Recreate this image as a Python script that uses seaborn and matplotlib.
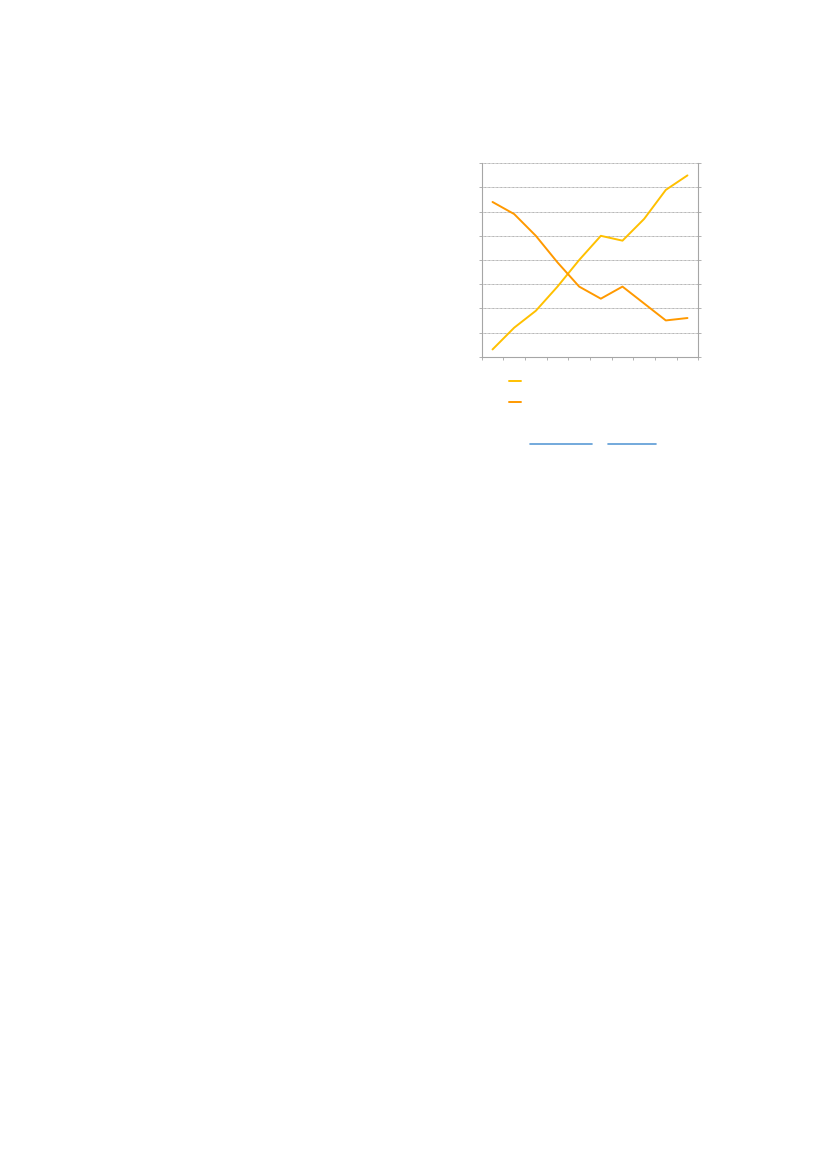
import numpy as np
import pandas as pd
import seaborn as sns
import matplotlib.pyplot as plt
from matplotlib.lines import Line2D

# values (no axis labels are visible, units are gridline steps)
categories = list(range(1, 11))
series_rising = [0.3, 1.2, 1.9, 2.9, 4.0, 5.0, 4.8, 5.7, 6.9, 7.5]
series_falling = [6.4, 5.9, 5.0, 3.9, 2.9, 2.4, 2.9, 2.2, 1.5, 1.6]
series_names = ['Série 1', 'Série 2']
colors = ['#FFC000', '#FF9900']

df = pd.DataFrame({
    'x': [c - 0.5 for c in categories] * 2,
    'y': series_rising + series_falling,
    'serie': [series_names[0]] * 10 + [series_names[1]] * 10,
})

sns.set_style('white')
fig = plt.figure(figsize=(8.27, 11.69), dpi=100)
ax = fig.add_axes([481.7 / 827, 1 - 356.7 / 1169, 216.6 / 827, 193.4 / 1169])

sns.lineplot(data=df, x='x', y='y', hue='serie', palette=colors,
             linewidth=1.4, legend=False, ax=ax)

ax.set_xlim(0, 10)
ax.set_ylim(0, 8)
ax.set_xticks(np.arange(0, 11))
ax.set_yticks(np.arange(0, 9))
ax.set_xticklabels([])
ax.set_yticklabels([])
ax.set_xlabel('')
ax.set_ylabel('')
ax.yaxis.grid(True, color='#9a9a9a', linewidth=0.6, linestyle=(0, (1, 0.6)))
ax.xaxis.grid(False)
for side in ['left', 'right', 'bottom']:
    ax.spines[side].set_color('#a6a6a6')
    ax.spines[side].set_linewidth(0.8)
ax.spines['top'].set_visible(False)
ax.tick_params(axis='both', which='both', direction='out', length=2, width=0.6,
               color='#a6a6a6', left=True, right=True, bottom=True)

# legend keys (labels are not visible in the reference)
for y, c in [(1 - 381 / 1169, colors[0]), (1 - 402 / 1169, colors[1])]:
    fig.add_artist(Line2D([509 / 827, 521 / 827], [y, y], color=c, linewidth=1.4))

# hyperlink underlines below the chart
yl = 1 - 444 / 1169
fig.add_artist(Line2D([530 / 827, 592 / 827], [yl, yl], color='#5B9BD5', linewidth=1.2))
fig.add_artist(Line2D([608 / 827, 656 / 827], [yl, yl], color='#5B9BD5', linewidth=1.2))

fig.savefig('out.png', dpi=100)
